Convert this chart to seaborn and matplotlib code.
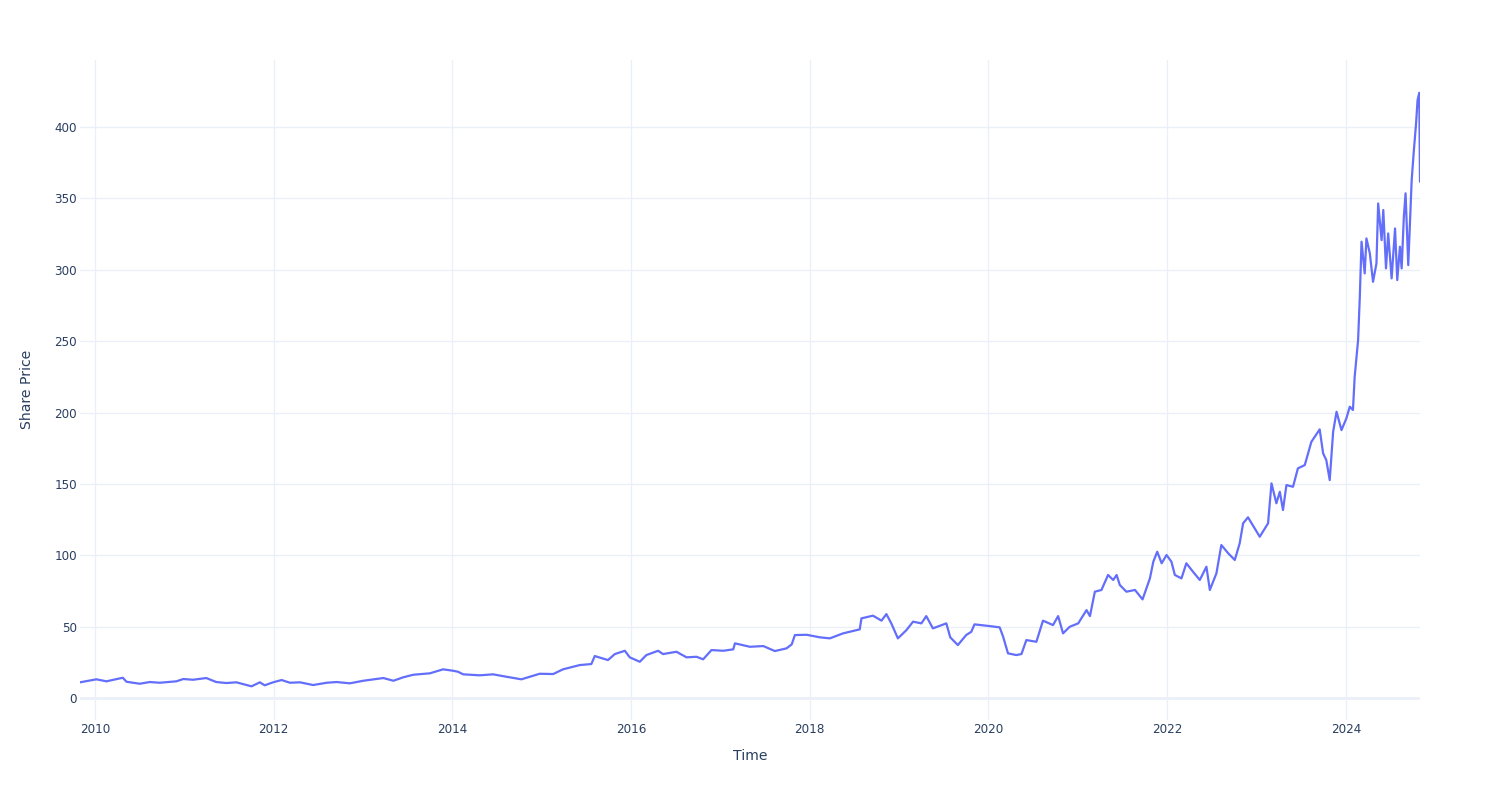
import matplotlib
matplotlib.use("Agg")
import matplotlib.pyplot as plt
import matplotlib.dates as mdates
import seaborn as sns
import pandas as pd

# Data (approximate)
dates = [
    "2009-11-01", "2010-01-07", "2010-02-17", "2010-04-25", "2010-05-10", "2010-07-03",
    "2010-08-13", "2010-09-23", "2010-11-30", "2010-12-28", "2011-02-06", "2011-04-01",
    "2011-05-12", "2011-06-22", "2011-08-02", "2011-10-03", "2011-11-06", "2011-11-26",
    "2011-12-30", "2012-02-03", "2012-03-08", "2012-04-18", "2012-06-11", "2012-08-05",
    "2012-09-15", "2012-11-08", "2013-01-02", "2013-03-25", "2013-05-05", "2013-06-14",
    "2013-07-25", "2013-10-01", "2013-11-24", "2014-01-04", "2014-01-24", "2014-02-14",
    "2014-04-23", "2014-06-16", "2014-08-10", "2014-10-10", "2014-11-13", "2014-12-24",
    "2015-02-17", "2015-03-29", "2015-06-06", "2015-07-23", "2015-08-06", "2015-09-29",
    "2015-10-27", "2015-12-07", "2015-12-27", "2016-02-06", "2016-03-04", "2016-04-21",
    "2016-05-11", "2016-07-05", "2016-08-15", "2016-09-25", "2016-10-22", "2016-11-25",
    "2017-01-12", "2017-02-22", "2017-03-01", "2017-05-01", "2017-06-25", "2017-08-11",
    "2017-09-28", "2017-10-19", "2017-11-01", "2017-12-19", "2018-02-12", "2018-03-24",
    "2018-05-17", "2018-07-24", "2018-07-31", "2018-09-16", "2018-10-21", "2018-11-10",
    "2018-11-30", "2018-12-27", "2019-01-31", "2019-02-27", "2019-04-02", "2019-04-22",
    "2019-05-19", "2019-07-13", "2019-07-29", "2019-08-29", "2019-10-02", "2019-10-23",
    "2019-11-05", "2020-01-06", "2020-02-16", "2020-03-01", "2020-03-21", "2020-04-24",
    "2020-05-15", "2020-06-04", "2020-07-15", "2020-08-11", "2020-09-21", "2020-10-12",
    "2020-11-01", "2020-11-28", "2021-01-02", "2021-02-05", "2021-02-19", "2021-03-11",
    "2021-04-07", "2021-05-04", "2021-05-25", "2021-06-08", "2021-06-21", "2021-07-18",
    "2021-08-22", "2021-09-22", "2021-10-22", "2021-11-05", "2021-11-21", "2021-12-09",
    "2021-12-29", "2022-01-18", "2022-02-01", "2022-02-28", "2022-03-20", "2022-04-16",
    "2022-05-14", "2022-06-10", "2022-06-24", "2022-07-21", "2022-08-10", "2022-09-07",
    "2022-10-04", "2022-10-24", "2022-11-07", "2022-11-27", "2022-12-24", "2023-01-14",
    "2023-02-17", "2023-03-03", "2023-03-23", "2023-04-06", "2023-04-19", "2023-05-03",
    "2023-05-30", "2023-06-19", "2023-07-17", "2023-08-13", "2023-09-16", "2023-09-30",
    "2023-10-13", "2023-10-27", "2023-11-10", "2023-11-24", "2023-12-14", "2024-01-03",
    "2024-01-17", "2024-01-30", "2024-02-06", "2024-02-20", "2024-02-27", "2024-03-05",
    "2024-03-18", "2024-03-25", "2024-04-08", "2024-04-21", "2024-05-05", "2024-05-12",
    "2024-05-26", "2024-06-02", "2024-06-13", "2024-06-22", "2024-07-06", "2024-07-20",
    "2024-07-29", "2024-08-09", "2024-08-16", "2024-08-25", "2024-09-01", "2024-09-12",
    "2024-09-26", "2024-10-05", "2024-10-14", "2024-10-20", "2024-10-27", "2024-10-30",
]
prices = [
    11.0, 13.1, 11.7, 14.2, 11.4, 10.0,
    11.2, 10.7, 11.7, 13.3, 12.8, 14.0,
    11.2, 10.5, 11.0, 8.2, 11.0, 8.9,
    11.0, 12.6, 10.7, 11.0, 9.1, 10.7,
    11.2, 10.3, 12.1, 14.0, 12.1, 14.5,
    16.3, 17.3, 20.1, 19.1, 18.4, 16.6,
    15.9, 16.6, 14.9, 13.1, 14.9, 17.0,
    16.8, 20.1, 23.1, 23.8, 29.4, 26.6,
    30.8, 33.1, 28.5, 25.4, 30.1, 33.1,
    30.8, 32.4, 28.5, 28.9, 27.1, 33.6,
    33.1, 34.1, 38.3, 35.9, 36.4, 32.9,
    34.8, 37.6, 44.1, 44.3, 42.5, 41.8,
    45.3, 48.1, 55.8, 57.7, 54.2, 58.8,
    52.3, 41.8, 47.6, 53.5, 52.3, 57.4,
    48.8, 52.3, 42.5, 37.1, 44.1, 46.4,
    51.6, 50.4, 49.5, 43.0, 31.3, 30.1,
    30.8, 40.6, 39.4, 54.2, 51.1, 57.4,
    45.3, 49.9, 52.3, 61.6, 57.4, 74.5,
    75.7, 86.2, 82.7, 86.2, 79.2, 74.5,
    75.7, 69.1, 83.8, 95.5, 102.5, 94.4,
    100.2, 95.5, 86.2, 83.8, 94.4, 88.5,
    82.7, 92.0, 75.7, 87.4, 107.2, 101.4,
    96.7, 108.4, 122.4, 126.6, 118.9, 113.0,
    122.4, 150.4, 136.4, 144.5, 131.7, 149.2,
    148.0, 160.9, 163.2, 179.5, 188.2, 171.4,
    166.7, 152.7, 186.6, 200.6, 187.7, 195.9,
    204.1, 201.8, 225.1, 250.8, 281.1, 319.7,
    297.5, 322.0, 311.5, 291.6, 304.5, 346.5,
    320.8, 341.9, 301.0, 325.5, 294.0, 329.0,
    292.8, 316.2, 301.0, 337.2, 353.6, 303.3,
    362.9, 383.9, 402.6, 418.9, 424.0, 361.7,
]
y_ticks = [0, 50, 100, 150, 200, 250, 300, 350, 400]

df = pd.DataFrame({"Time": pd.to_datetime(dates), "Share Price": prices})

sns.set_theme(style="white")
plt.rcParams["font.family"] = ["DejaVu Sans"]

TXT = "#2a3f5f"
GRID = "#EBF0F8"

fig = plt.figure(figsize=(15, 8), dpi=100)
ax = fig.add_axes([80 / 1500, 80 / 800, 1340 / 1500, 660 / 800])

sns.lineplot(data=df, x="Time", y="Share Price", ax=ax, color="#636EFA",
             linewidth=1.6, zorder=3)

ax.set_xlim(df["Time"].iloc[0], df["Time"].iloc[-1])
ax.set_ylim(-15.4, 447)

ax.xaxis.set_major_locator(mdates.YearLocator(base=2))
ax.xaxis.set_major_formatter(mdates.DateFormatter("%Y"))
ax.set_yticks(y_ticks)

for s in ax.spines.values():
    s.set_visible(False)

ax.grid(True, color=GRID, linewidth=1, zorder=0)
ax.axhline(0, color=GRID, linewidth=2, zorder=1)

ax.tick_params(axis="both", length=0, labelsize=8.64, labelcolor=TXT)
ax.tick_params(axis="y", pad=2)
ax.tick_params(axis="x", pad=2)

ax.set_xlabel("Time", fontsize=10.08, color=TXT)
ax.set_ylabel("Share Price", fontsize=10.08, color=TXT)
ax.xaxis.set_label_coords(0.5, -36 / 660)
ax.yaxis.set_label_coords(-53 / 1340, (720 - 389) / 660)
ax.xaxis.label.set_va("center")
ax.yaxis.label.set_va("center")

fig.savefig("out.png", dpi=100, facecolor="white")
